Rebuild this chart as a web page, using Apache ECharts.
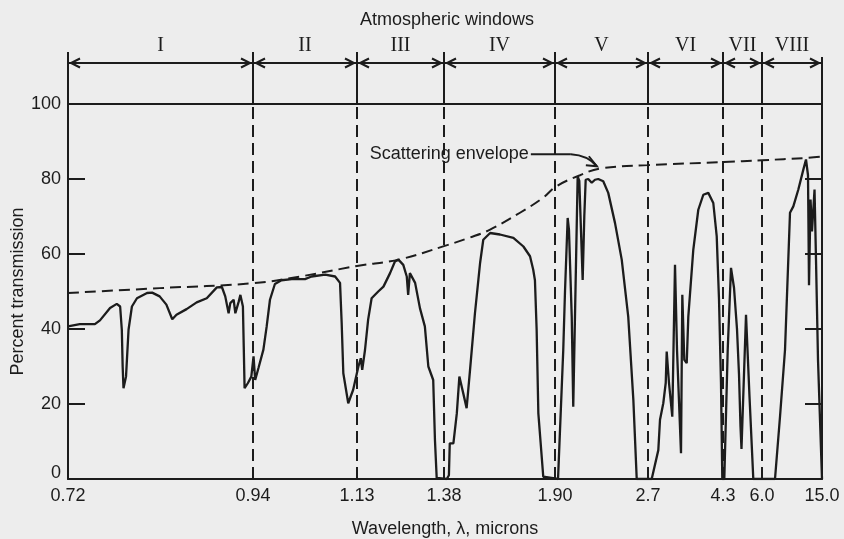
<!DOCTYPE html>
<html><head><meta charset="utf-8">
<script src="https://cdn.jsdelivr.net/npm/echarts@6/dist/echarts.min.js"></script>
<style>html,body{margin:0;padding:0;background:#ededed;}#c{width:844px;height:539px;}</style>
</head><body><div id="c"></div>
<script>
// ---------- data ----------
const tickLabels = ['0.72','0.94','1.13','1.38','1.90','2.7','4.3','6.0','15.0'];
const tickWavelengths = [0.72, 0.94, 1.13, 1.38, 1.90, 2.7, 4.3, 6.0, 15.0];
const windowNames = ['I','II','III','IV','V','VI','VII','VIII'];
const yTickValues = [0, 20, 40, 60, 80, 100];

const transWavelength = [
 0.720,0.734,0.752,0.758,0.770,0.778,0.782,0.784,0.785,0.786,0.789,0.792,0.796,0.802,0.814,0.820,0.829,0.837,0.844,0.849,
 0.861,0.873,0.885,0.897,0.903,0.907,0.911,0.913,0.917,0.919,0.923,0.925,0.928,0.929,0.930,0.934,0.938,0.941,0.944,0.950,
 0.959,0.965,0.971,0.980,0.992,1.011,1.035,1.047,1.072,1.090,1.099,1.102,1.105,1.114,1.123,1.134,1.141,1.145,1.153,1.162,
 1.172,1.191,1.206,1.225,1.239,1.249,1.263,1.273,1.277,1.282,1.287,1.297,1.311,1.325,1.335,1.349,1.354,1.359,1.393,1.403,
 1.407,1.424,1.440,1.452,1.470,1.486,1.502,1.525,1.541,1.549,1.564,1.596,1.642,1.705,1.752,1.783,1.798,1.806,1.814,1.822,
 1.845,1.926,1.971,1.986,2.009,2.020,2.044,2.057,2.095,2.109,2.138,2.152,2.164,2.186,2.216,2.244,2.272,2.315,2.358,2.416,
 2.474,2.530,2.574,2.603,2.779,2.920,2.956,3.026,3.078,3.099,3.148,3.218,3.276,3.319,3.404,3.432,3.474,3.526,3.560,3.666,
 3.773,3.880,3.986,4.093,4.166,4.215,4.257,4.285,4.357,4.505,4.649,4.780,4.910,4.997,5.063,5.106,5.303,5.455,5.621,7.95,
 8.70,9.45,10.20,10.70,11.45,12.20,12.60,12.90,13.05,13.28,13.50,13.88,14.10,14.40,14.70,15.00
];
const transPercent = [
 40.7,41.3,41.3,42.3,45.6,46.7,46.0,39.8,30.0,24.2,27.3,39.8,46.0,48.2,49.6,49.7,48.7,46.5,42.6,43.8,
 45.3,47.1,48.2,51.1,51.2,48.7,44.2,46.9,47.8,44.2,47.3,49.1,46.0,35.3,24.2,25.6,27.3,32.7,26.4,29.6,
 34.5,40.7,47.8,52.0,53.0,53.3,53.3,54.0,54.5,54.0,52.3,41.6,28.2,20.2,23.8,30.0,32.2,29.1,34.4,42.5,
 48.2,50.0,51.3,54.9,58.0,58.5,57.1,54.0,49.1,54.9,55.4,52.3,45.5,40.7,30.0,26.4,10.4,0.3,0.0,1.0,
 9.5,9.5,17.5,27.3,22.9,18.9,29.1,44.2,53.1,57.6,63.8,65.6,65.2,64.3,62.0,59.4,55.8,53.0,39.8,17.5,
 0.6,0.0,34.4,50.0,69.6,66.5,43.3,19.3,80.7,79.5,53.1,70.0,79.8,80.0,79.0,79.8,80.0,79.4,76.3,68.3,
 58.5,43.3,21.1,0.0,0.0,7.7,15.8,20.2,25.6,34.0,25.6,16.6,57.1,34.4,6.9,49.1,31.8,30.9,43.3,61.1,
 71.8,75.8,76.3,73.6,64.7,47.8,25.6,0.0,0.0,34.4,56.3,51.0,40.0,28.0,14.0,8.0,43.8,22.0,0.0,0.0,
 16.6,34.4,71.0,72.7,77.2,82.5,85.2,81.0,51.7,74.5,66.0,77.2,58.5,31.8,15.8,0.0
];
const envWavelength = [0.72,0.829,0.94,1.026,1.13,1.254,1.38,1.502,1.596,1.736,1.844,1.909,2.115,2.287,2.7,4.3,6.0,12.45,15.0];
const envPercent    = [49.6,50.9,52.2,54.0,56.8,58.6,62.1,64.4,66.5,71.0,75.0,78.0,81.0,82.8,83.7,84.5,85.0,85.6,86.0];

// ---------- non-uniform printed wavelength scale (relative spacing of tick marks) ----------
const AXIS_SPACING = [0,185,289,376,487,580,655,694,754];
function axisPos(w){
  const t = tickWavelengths;
  if (w <= t[0]) return AXIS_SPACING[0];
  for (let k = 0; k < t.length - 1; k++){
    if (w <= t[k+1]) return AXIS_SPACING[k] + (w - t[k]) / (t[k+1] - t[k]) * (AXIS_SPACING[k+1] - AXIS_SPACING[k]);
  }
  return AXIS_SPACING[AXIS_SPACING.length - 1];
}
const tickPositions = tickWavelengths.map(axisPos);
function labelFor(v){
  let best = 0;
  tickPositions.forEach((p, i) => { if (Math.abs(p - v) < Math.abs(tickPositions[best] - v)) best = i; });
  return tickLabels[best];
}

const INK = '#1c1c1c';
const FONT = '"Liberation Sans", Arial, sans-serif';
const SERIF = '"Liberation Serif", "Times New Roman", serif';

const chart = echarts.init(document.getElementById('c'), null, {renderer: 'canvas'});
const yAxisBase = {
  type: 'value', min: 0, max: 100, interval: 20,
  axisLine: {show: true, onZero: false, lineStyle: {color: INK, width: 2}},
  axisTick: {show: true, inside: true, length: 17, lineStyle: {color: INK, width: 2}},
  splitLine: {show: false}
};
chart.setOption({
  backgroundColor: '#ededed',
  animation: false,
  grid: {left: 68, right: 22, top: 104, bottom: 60, outerBoundsMode: 'none', containLabel: false},
  xAxis: [{
    type: 'value', min: 0, max: 754, position: 'bottom',
    axisLine: {show: true, onZero: false, lineStyle: {color: INK, width: 2}},
    axisTick: {show: false}, splitLine: {show: false},
    axisLabel: {customValues: tickPositions, formatter: labelFor, fontSize: 18, color: INK, fontFamily: FONT, margin: 8},
    name: 'Wavelength, λ, microns', nameLocation: 'middle', nameGap: 41, nameMoveOverlap: false,
    nameTextStyle: {fontSize: 18, color: INK, fontFamily: FONT}
  }, {
    type: 'value', min: 0, max: 754, position: 'top',
    axisLine: {show: true, onZero: false, lineStyle: {color: INK, width: 2}},
    axisTick: {show: false}, axisLabel: {show: false}, splitLine: {show: false}
  }],
  yAxis: [Object.assign({}, yAxisBase, {
    position: 'left',
    axisLabel: {fontSize: 18, color: INK, fontFamily: FONT, margin: 7,
      formatter: v => (v === 0 ? '{low|0}' : String(v)),
      rich: {low: {fontSize: 18, color: INK, fontFamily: FONT, padding: [0, 0, 12, 0]}}},
    name: 'Percent transmission', nameLocation: 'middle', nameGap: 41, nameMoveOverlap: false,
    nameTextStyle: {fontSize: 18, color: INK, fontFamily: FONT}
  }), Object.assign({}, yAxisBase, {position: 'right', axisLabel: {show: false}})],
  series: [{
    name: 'Transmission', type: 'line', xAxisIndex: 0, yAxisIndex: 0,
    symbol: 'none', smooth: false,
    lineStyle: {color: INK, width: 2.3},
    data: transWavelength.map((w, i) => [axisPos(w), transPercent[i]])
  }, {
    name: 'Scattering envelope', type: 'line', xAxisIndex: 0, yAxisIndex: 0,
    symbol: 'none', smooth: 0.4,
    lineStyle: {color: INK, width: 2, type: [11, 6]},
    data: envWavelength.map((w, i) => [axisPos(w), envPercent[i]])
  }, {
    name: 'Windows', type: 'line', xAxisIndex: 0, yAxisIndex: 0, data: [],
    markLine: {
      silent: true, symbol: 'none', label: {show: false},
      lineStyle: {color: INK, width: 2, type: [12, 6]},
      data: tickWavelengths.slice(1, -1).map(w => ({xAxis: axisPos(w)}))
    }
  }]
});

// ---------- overlay: window brackets, titles, annotation ----------
function overlay(){
  const topY = chart.convertToPixel({yAxisIndex: 0}, 100);
  const xs = tickWavelengths.map(w => chart.convertToPixel({xAxisIndex: 0}, axisPos(w)));
  const els = [];
  const yArrow = 63;
  xs.forEach((x, i) => {
    els.push({type: 'line', shape: {x1: x, y1: i === xs.length - 1 ? 57 : 52, x2: x, y2: topY},
      style: {stroke: INK, lineWidth: 2}});
  });
  for (let i = 0; i < windowNames.length; i++){
    const a = xs[i], b = xs[i+1];
    els.push({type: 'line', shape: {x1: a, y1: yArrow, x2: b, y2: yArrow}, style: {stroke: INK, lineWidth: 2}});
    els.push({type: 'polyline', shape: {points: [[a + 12, yArrow - 4.5], [a + 3, yArrow], [a + 12, yArrow + 4.5]]},
      style: {stroke: INK, lineWidth: 2, fill: null}});
    els.push({type: 'polyline', shape: {points: [[b - 12, yArrow - 4.5], [b - 3, yArrow], [b - 12, yArrow + 4.5]]},
      style: {stroke: INK, lineWidth: 2, fill: null}});
    els.push({type: 'text', x: (a + b) / 2, y: 46,
      style: {text: windowNames[i], fill: INK, font: '20px ' + SERIF, align: 'center', verticalAlign: 'middle'}});
  }
  els.push({type: 'text', x: (xs[0] + xs[xs.length - 1]) / 2 + 2, y: 20,
    style: {text: 'Atmospheric windows', fill: INK, font: '18px ' + FONT, align: 'center', verticalAlign: 'middle'}});
  // annotation pointing at the envelope
  const tip = chart.convertToPixel({xAxisIndex: 0, yAxisIndex: 0}, [axisPos(2.26), 83.4]);
  const tx = tip[0], ty = tip[1];
  els.push({type: 'text', x: tx - 68, y: ty - 12,
    style: {text: 'Scattering envelope', fill: INK, font: '18px ' + FONT, align: 'right', verticalAlign: 'middle'}});
  els.push({type: 'line', shape: {x1: tx - 66, y1: ty - 12, x2: tx - 26, y2: ty - 12},
    style: {stroke: INK, lineWidth: 2}});
  els.push({type: 'bezierCurve', shape: {x1: tx - 26, y1: ty - 12, cpx1: tx - 9, cpy1: ty - 11, x2: tx, y2: ty},
    style: {stroke: INK, lineWidth: 2, fill: null}});
  els.push({type: 'polyline', shape: {points: [[tx - 8, ty - 10], [tx, ty], [tx - 11, ty - 1]]},
    style: {stroke: INK, lineWidth: 2, fill: null}});
  chart.setOption({graphic: {elements: els}});
}
overlay();
</script>
</body></html>
